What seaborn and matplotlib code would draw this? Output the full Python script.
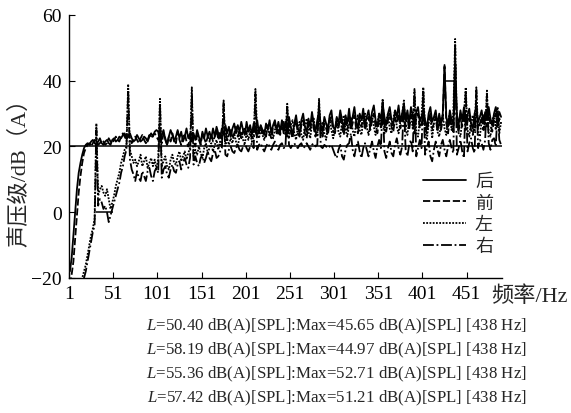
import numpy as np
import pandas as pd
import matplotlib
matplotlib.use("Agg")
import matplotlib.pyplot as plt
import seaborn as sns

# Frequency grid of the spectra (Hz)
freq_hz = np.arange(2, 491, 2)

# Sound pressure level per microphone position, dB(A)
level_hou = [
    -18, -14, -7, 0, 7, 12, 15, 17.5, 19.5, 20.5,
    21, 20.5, 21.5, 22, 21, 20.5, 21.5, 22.5, 21, 20.5,
    21.5, 22, 21, 20.5, 22, 22.5, 21.5, 22, 23, 22.5,
    23.5, 24, 22.5, 23, 24, 22.5, 21.5, 22, 23.5, 22.5,
    21.5, 22, 23, 22.5, 21.5, 23, 24, 23, 24.5, 25,
    24.5, 21.5, 23.5, 25, 22, 20.5, 23, 25, 23.5, 21.5,
    23, 25, 22.5, 24.5, 21.5, 23, 25.5, 22.5, 24, 21.5,
    24, 22, 25, 23, 21, 24.5, 22.5, 25.5, 23, 24.5,
    22.5, 25.5, 23, 26, 24, 22.5, 25.5, 23.5, 26.5, 24,
    26, 23, 25.5, 27, 24, 26.5, 24.5, 27.5, 25, 23.5,
    27.5, 24.5, 26.5, 23.5, 27, 25, 28, 24, 26.5, 25,
    23.5, 27, 25, 28, 24, 26.5, 28, 25, 27.5, 24.5,
    28, 25, 27.5, 24.5, 29, 26, 23.5, 27, 29.5, 25.5,
    24, 28, 30, 26, 24.5, 28.5, 26, 30.5, 27, 24.5,
    28, 31, 26.5, 24.5, 29, 27, 25, 29.5, 31, 26,
    25, 29, 27, 31, 28, 25.5, 29.5, 27, 31.5, 26.5,
    29, 32, 27.5, 25.5, 30, 28, 31.5, 26.5, 29, 31,
    27, 30.5, 32.5, 28, 26, 30, 28.5, 33, 29, 26.5,
    30, 32, 28, 26.5, 31, 29, 32.5, 27.5, 30, 33,
    28, 31, 27, 32, 29.5, 26, 30.5, 32, 27.5, 29,
    31.5, 28, 25.5, 30, 32, 27.5, 29, 31, 26.5, 30,
    27, 30, 44.8, 29, 26, 31, 28, 26.5, 45.65, 29.5,
    26.5, 31, 28, 32, 27, 29.5, 31.5, 27, 25.5, 30,
    32, 27.5, 29, 31, 27, 30.5, 28, 32, 28.5, 26.5,
    30, 32, 28, 30.5, 29,
]

level_qian = [
    -22, -19, -15, -8, -1, 6, 11, 15, 18, 19.5,
    20.5, 21, 20, 21, 22, 21.5, 20.5, 21, 22, 21.5,
    20.5, 21, 22.5, 21.5, 21, 22, 23, 22, 21.5, 23,
    24, 23, 22, 23.5, 22.5, 21, 22, 23, 22, 21,
    22.5, 23.5, 22, 21, 22, 23.5, 22.5, 23.5, 24, 23,
    22, 23.5, 21, 24, 22.5, 20.5, 23, 21.5, 24, 22,
    21, 24.5, 22, 20.5, 23, 24, 21.5, 20, 23, 24.5,
    21.5, 20, 23.5, 22, 20.5, 24, 22.5, 21, 23, 21.5,
    24, 21.5, 23, 25, 22, 24.5, 22.5, 24, 25.5, 22,
    23.5, 25.5, 22.5, 24, 26, 23, 25, 22.5, 24.5, 26,
    23.5, 25.5, 24, 22.5, 26, 24.5, 23, 25.5, 26.5, 23.5,
    25, 23, 26.5, 24, 22.5, 26, 27, 24, 25.5, 23.5,
    27, 24, 26.5, 23, 27.5, 24.5, 22.5, 26, 28, 24,
    23, 26.5, 28, 24, 22.5, 27, 25, 28.5, 25.5, 23,
    26.5, 29, 25, 23, 27, 25.5, 23.5, 27.5, 29, 24.5,
    24, 27, 25.5, 29, 26, 23.5, 27.5, 25, 29, 25,
    27, 29.5, 25.5, 24, 28, 26, 29.5, 25, 27, 29,
    25, 28, 30, 26, 24, 28, 26.5, 30, 27, 24.5,
    28, 30, 26, 24.5, 28.5, 27, 30, 25.5, 28, 30.5,
    26, 29, 25, 29.5, 27.5, 24, 28.5, 30, 25.5, 27,
    29, 26, 24, 28, 30, 25.5, 27, 29, 24.5, 28,
    25, 28, 44.3, 27, 24, 29, 26, 24.5, 44.97, 27.5,
    24.5, 29, 26, 30, 25, 27.5, 29.5, 25, 23.5, 28,
    30, 25.5, 27, 29, 25, 28.5, 26, 30, 26.5, 24.5,
    28, 30, 26, 28.5, 27,
]

level_zuo = [
    -34, -32, -30, -28, -26, -24, -22, -20, -18, -16,
    -13, -10, -7, -5, -2, 27, 5, 7, 8, 6,
    5, 7, 4, 1, 3, 5, 8, 10, 12, 15,
    17, 19, 20, 39, 19, 17, 15, 16, 14, 15.5,
    17.5, 14, 15.5, 17, 13.5, 15, 16.5, 14, 16, 13,
    16.5, 34.5, 14, 15.5, 17, 14, 13, 16, 17.5, 15,
    14.5, 17, 18.5, 15.5, 17, 18.5, 16, 18, 19.5, 38,
    17, 19, 17.5, 20, 18, 16.5, 19.5, 21, 18, 19.5,
    21, 18.5, 20.5, 22, 19, 21.5, 20, 34, 20.5, 22.5,
    20.5, 22.5, 21, 24, 21.5, 20, 23, 24.5, 22, 21,
    24, 22, 24.5, 21.5, 23, 37.5, 24.5, 22.5, 25, 23.5,
    22, 24.5, 26, 23, 25.5, 22.5, 25, 26.5, 23.5, 25,
    25, 27.5, 23.5, 33, 22.5, 26.5, 28, 24, 22, 26,
    27.5, 23.5, 22, 26, 28.5, 24.5, 22.5, 27, 28.5, 24,
    23, 34.5, 23.5, 27.5, 24, 22, 26, 28.5, 25, 22.5,
    25, 28.5, 24.5, 23, 27.5, 29.5, 25, 23, 26.5, 29,
    25, 23, 27, 29.5, 25, 23.5, 28, 30, 26, 23.5,
    26.5, 29.5, 26, 23.5, 27, 30, 25.5, 34.5, 24, 28,
    30, 25.5, 24, 28.5, 31, 26, 24, 27.5, 29.5, 34,
    25, 23.5, 28, 30, 25.5, 37.5, 24, 23, 28, 29.5,
    38, 24, 22, 27, 29.5, 22.5, 27, 30, 24.5, 23,
    27, 29.5, 25.5, 23.5, 28, 30, 25, 30.5, 52.71, 27,
    24, 23, 28, 30, 38, 25, 23, 27.5, 29.5, 24.5,
    38, 24, 23, 28, 29.5, 25, 37, 24, 23, 28,
    29.5, 25, 32, 24, 27.5,
]

level_you = [
    -36, -34, -32, -30, -28, -26, -24, -22, -20, -18,
    -15, -12, -9, -6, -4, 25, 2, 4, 3, 1,
    2, 0, -3, -1, 1, 3, 5, 7, 9, 12,
    14, 17, 19, 37, 16, 13, 11.5, 9.5, 12.5, 10.5,
    9.5, 12.5, 11, 9.5, 12.5, 13.5, 11, 9.5, 12.5, 13.5,
    12, 33, 10.5, 13, 14, 11.5, 10.5, 13, 14.5, 12.5,
    12, 14.5, 15.5, 13, 15, 16.5, 14.5, 13.5, 16.5, 36,
    14.5, 17, 15, 14, 16.5, 17.5, 15, 16.5, 18.5, 16.5,
    15.5, 18, 19, 16.5, 17, 18.5, 19.5, 33, 17.5, 17,
    19, 20, 18.5, 18, 19.5, 20.5, 19, 18.5, 20, 21,
    19.5, 18.5, 20, 21, 19.5, 36, 19, 20.5, 21, 19.5,
    18.5, 20, 21, 20, 19, 20.5, 21.5, 20, 19, 20.5,
    21, 19.5, 20, 32, 20.5, 19.5, 20.5, 21, 20, 19.5,
    20.5, 21, 19.5, 20, 21, 20, 19, 20.5, 21, 20,
    20.5, 33.5, 20, 19.5, 20.5, 20, 19.5, 20, 20.5, 19,
    17.5, 16.5, 19, 20.5, 17, 16, 19, 20.5, 21, 24,
    19, 17, 20, 21.5, 18.5, 16.5, 19.5, 21, 19, 17,
    19.5, 21.5, 18.5, 16.5, 20, 22, 19.5, 33.5, 18.5, 16.5,
    19.5, 21.5, 18, 17, 20.5, 22.5, 19.5, 17.5, 20, 33,
    19, 17, 20.5, 22, 18.5, 36.5, 17, 19.5, 22, 19.5,
    37, 17.5, 19.5, 21.5, 17, 15.5, 19, 21.5, 19, 17,
    20.5, 22, 19, 17, 20, 22, 19.5, 18, 51.21, 17.5,
    19.5, 22, 18.5, 16.5, 37, 18.5, 21, 22.5, 19.5, 18,
    37, 19.5, 22, 21, 19, 22, 36, 21, 19, 22,
    22.5, 20, 31, 22, 20.5,
]

series_names = ["后", "前", "左", "右"]
series_levels = [level_hou, level_qian, level_zuo, level_you]
line_styles = ["-", (0, (4, 1.5)), (0, (1, 0.8)), (0, (6, 1.5, 1, 1.5))]

# Analyzer cursor lines: level (dB) and frequency span (Hz)
cursor_levels = [20, 0, 40]
cursor_start = [1, 32, 426]
cursor_end = [491, 51, 438]

# Overall level and spectral maximum for each position
summary_L = ["50.40", "58.19", "55.36", "57.42"]
summary_max = ["45.65", "44.97", "52.71", "51.21"]
summary_freq = [438, 438, 438, 438]

x_ticks = [1, 51, 101, 151, 201, 251, 301, 351, 401, 451]
y_ticks = [-20, 0, 20, 40, 60]

sns.set_style("ticks")
plt.rcParams["font.family"] = ["Liberation Serif", "Noto Sans CJK SC"]
plt.rcParams["mathtext.fontset"] = "custom"
plt.rcParams["mathtext.rm"] = "Liberation Serif"
plt.rcParams["mathtext.it"] = "Liberation Serif:italic"

frames = []
for name, levels in zip(series_names, series_levels):
    assert len(levels) == len(freq_hz)
    frames.append(pd.DataFrame({"freq": freq_hz, "level": levels, "position": name}))
df = pd.concat(frames, ignore_index=True)

fig = plt.figure(figsize=(5.71, 4.14), dpi=100)
ax = fig.add_axes([0.1208, 0.3261, 0.7583, 0.6353])

handles = []
for name, ls in zip(series_names, line_styles):
    sub = df[df["position"] == name]
    n_before = len(ax.lines)
    sns.lineplot(data=sub, x="freq", y="level", ax=ax, color="black",
                 linewidth=1.3, linestyle=ls, estimator=None, sort=False,
                 legend=False)
    handles.append(ax.lines[n_before])

ax.hlines(cursor_levels, cursor_start, cursor_end, colors="black", linewidth=1.1)

ax.set_xlim(1, 491)
ax.set_ylim(-20, 60)
ax.set_xticks(x_ticks)
ax.set_yticks(y_ticks)
ax.set_xlabel("")
ax.set_ylabel("")
ax.tick_params(direction="in", length=4, width=0.8, labelsize=14, pad=5,
               colors="black")
for side in ["top", "right"]:
    ax.spines[side].set_visible(False)
for side in ["left", "bottom"]:
    ax.spines[side].set_linewidth(1.0)
    ax.spines[side].set_color("black")

ax.legend(handles, series_names, loc="upper left", bbox_to_anchor=(0.80, 0.43),
          frameon=False, handlelength=2.4, labelspacing=0.2,
          handletextpad=0.5, borderaxespad=0,
          prop={"family": ["Noto Sans CJK SC"], "size": 13})

fig.text(0.035, 0.597, "声压级/dB（A）", rotation=90, ha="center", va="center",
         fontsize=16)
fig.text(0.860, 0.283, "频率/Hz", ha="left", va="center", fontsize=16)

y_rows = [0.2126, 0.1546, 0.0966, 0.0386]
for L, mx, f, y in zip(summary_L, summary_max, summary_freq, y_rows):
    fig.text(0.590, y, f"$L$={L} dB(A)[SPL]:Max={mx} dB(A)[SPL] [{f} Hz]",
             ha="center", va="center", fontsize=12.2)

fig.savefig("out.png", dpi=100, facecolor="white")
